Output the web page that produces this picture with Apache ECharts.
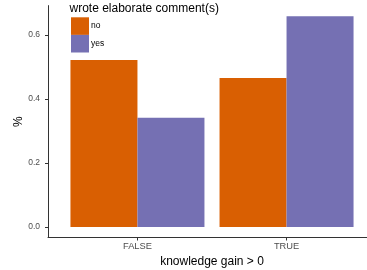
<!DOCTYPE html>
<html><head><meta charset="utf-8">
<script src="https://cdn.jsdelivr.net/npm/echarts@6/dist/echarts.min.js"></script>
<style>html,body{margin:0;padding:0;background:#fff}#c{width:367px;height:270px}</style>
</head><body><div id="c"></div>
<script>
const categories = ['FALSE', 'TRUE'];
const noValues = [0.522, 0.466];
const yesValues = [0.341, 0.659];
const yTicks = [0, 0.2, 0.4, 0.6];
const seriesNames = ['no', 'yes'];
const legendTitle = 'wrote elaborate comment(s)';

const font = 'Liberation Sans, Arial, sans-serif';
const chart = echarts.init(document.getElementById('c'), null, {renderer: 'canvas'});
const pos = categories.map((c, i) => i + 1);
chart.setOption({
  animation: false,
  textStyle: {fontFamily: font},
  title: {text: legendTitle, left: 69.5, top: 2.5, padding: 0, textStyle: {fontFamily: font, fontSize: 12, fontWeight: 'normal', color: '#000'}},
  legend: {
    data: seriesNames, orient: 'vertical', left: 71, top: 17.3, padding: 0, itemWidth: 18, itemHeight: 17.6, itemGap: 0,
    icon: 'rect', textStyle: {fontFamily: font, fontSize: 8.5, color: '#000', padding: [0, 0, 0, -3]}
  },
  grid: {left: 48, top: 5.6, width: 328, bottom: 32.5, containLabel: false, outerBoundsMode: 'none'},
  xAxis: {
    type: 'value', min: 0.4, max: 2.6,
    name: 'knowledge gain > 0', nameLocation: 'middle', nameGap: 18, nameMoveOverlap: false,
    nameTextStyle: {fontFamily: font, fontSize: 12, color: '#000'},
    axisLine: {show: true, onZero: false, lineStyle: {color: '#333', width: 1}},
    axisTick: {show: true, length: 3, customValues: pos, lineStyle: {color: '#333'}},
    axisLabel: {customValues: pos, fontSize: 9.3, color: '#4d4d4d', margin: 4,
      formatter: v => categories[Math.round(v) - 1] || ''},
    splitLine: {show: false}
  },
  yAxis: {
    type: 'value', min: -0.033, max: 0.692,
    name: '%', nameLocation: 'middle', nameGap: 23, nameRotate: 90, nameMoveOverlap: false,
    nameTextStyle: {fontFamily: font, fontSize: 12, color: '#000'},
    axisLine: {show: true, lineStyle: {color: '#333', width: 1}},
    axisTick: {show: true, length: 3, customValues: yTicks, lineStyle: {color: '#333'}},
    axisLabel: {customValues: yTicks, fontSize: 8.5, color: '#4d4d4d', margin: 8, formatter: v => v.toFixed(1)},
    splitLine: {show: false}
  },
  series: [
    {name: 'no', type: 'bar', barWidth: 67, barGap: '0%', itemStyle: {color: '#D95F02'},
      data: noValues.map((v, i) => [pos[i], v])},
    {name: 'yes', type: 'bar', barWidth: 67, barGap: '0%', itemStyle: {color: '#7570B3'},
      data: yesValues.map((v, i) => [pos[i], v])}
  ]
});
</script></body></html>
